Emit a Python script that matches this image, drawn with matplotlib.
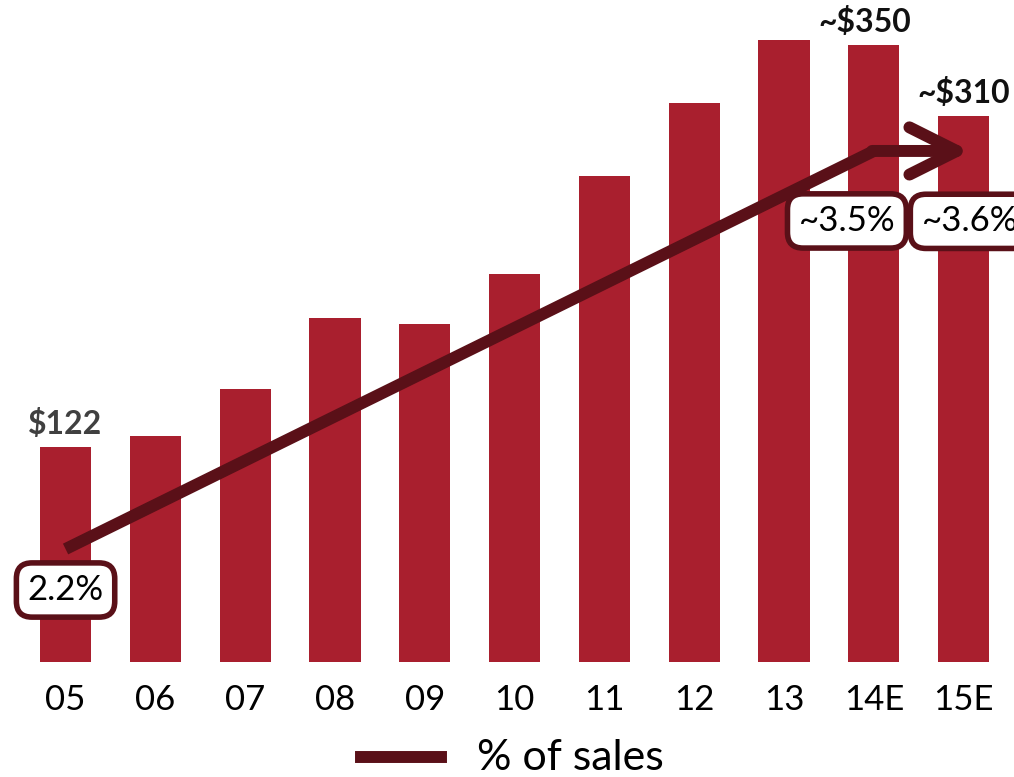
import matplotlib.pyplot as plt

plt.rcParams['font.family'] = ['Lato', 'DejaVu Sans']

years = ['05', '06', '07', '08', '09', '10', '11', '12', '13', '14E', '15E']
spend = [122, 128, 155, 195, 192, 220, 276, 317, 353, 350, 310]
spend_labels = {0: '$122', 9: '~$350', 10: '~$310'}

# share of sales at the start and end of the trend
share_idx = [0, 9, 10]
share = [2.2, 3.5, 3.6]
share_labels = ['2.2%', '~3.5%', '~3.6%']

bar_color = '#a91f2e'
line_color = '#5a1018'

fig = plt.figure(figsize=(10.14, 7.77), dpi=100)
ax = fig.add_axes([0, 0.148, 1, 0.852])
x = list(range(len(years)))
ax.bar(x, spend, width=0.57, color=bar_color)
ax.set_xlim(-0.73, 10.56)
ax.set_ylim(0, 375.6)
ax.set_xticks(x)
ax.set_xticklabels(years, fontsize=25)
ax.tick_params(axis='x', length=0, pad=16)
ax.set_yticks([])
for s in ax.spines.values():
    s.set_visible(False)

for i, txt in spend_labels.items():
    dx = -9 if i == 9 else 0
    ax.annotate(txt, (i, spend[i]), xytext=(dx, 8), textcoords='offset pixels',
                ha='center', va='bottom', fontsize=23, fontweight='bold',
                color='#404040' if i == 0 else '#111111')

ax2 = ax.twinx()
ax2.set_ylim(1.831, 3.993)
ax2.set_yticks([])
for s in ax2.spines.values():
    s.set_visible(False)

# trend line, then a flat arrow pointing at the last year
ax2.plot(share_idx[:2], share[:2], color=line_color, lw=8.6,
         solid_capstyle='butt', solid_joinstyle='round')
ax2.annotate('', xy=(10.07, share[1]), xytext=(share_idx[1] - 0.02, share[1]),
             arrowprops=dict(arrowstyle='->,head_length=1.7,head_width=0.85',
                             mutation_scale=20, lw=8.6, color=line_color,
                             capstyle='round', joinstyle='round',
                             shrinkA=0, shrinkB=0))

box = dict(boxstyle='round,pad=0.32,rounding_size=0.45', fc='white',
           ec=line_color, lw=4)
offsets = [(0, -41), (-27, -70), (6, -101)]
for i, v, txt, off in zip(share_idx, share, share_labels, offsets):
    ax2.annotate(txt, (i, v), xytext=off, textcoords='offset pixels',
                 ha='center', va='center', fontsize=25, bbox=box,
                 annotation_clip=False)

# legend entry for the line
fig.lines.append(plt.Line2D([361 / 1014, 441 / 1014], [20 / 777, 20 / 777],
                            transform=fig.transFigure, color=line_color, lw=8.6))
fig.text(477 / 1014, 19 / 777, '% of sales', fontsize=31, va='center', ha='left')

fig.savefig('out.png', dpi=100)
